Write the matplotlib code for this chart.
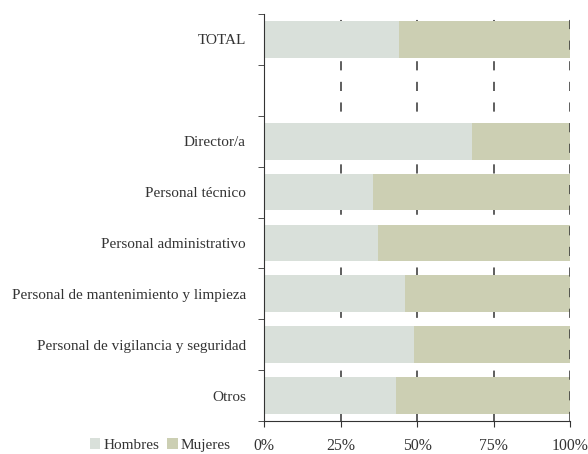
import matplotlib.pyplot as plt
import numpy as np

categories = ["TOTAL", "", "Director/a", "Personal técnico", "Personal administrativo",
              "Personal de mantenimiento y limpieza", "Personal de vigilancia y seguridad", "Otros"]
hombres = [44.1, np.nan, 68.0, 35.6, 37.3, 46.1, 49.0, 43.1]
mujeres = [55.9, np.nan, 32.0, 64.4, 62.7, 53.9, 51.0, 56.9]
xticks = [0, 25, 50, 75, 100]

plt.rcParams["font.family"] = ["Liberation Serif", "DejaVu Serif"]
txt = "#333333"

fig = plt.figure(figsize=(5.88, 4.54), dpi=100)
ax = fig.add_axes([264 / 588, 33 / 454, 306 / 588, 407 / 454])

y = np.arange(len(categories))
h = np.nan_to_num(hombres)
m = np.nan_to_num(mujeres)
ax.barh(y, h, height=0.72, color="#d9e0da", label="Hombres", zorder=2)
ax.barh(y, m, left=h, height=0.72, color="#cccfb3", label="Mujeres", zorder=2)

for x in xticks[1:]:
    ax.axvline(x, color="#333333", lw=1.1, ls=(0, (6, 7.5)), zorder=1 if x < 100 else 3)

ax.set_xlim(0, 100)
ax.set_ylim(len(categories) - 0.5, -0.5)
ax.set_xticks(xticks)
ax.set_xticklabels([f"{v}%" for v in xticks], fontsize=11.3, color=txt)
ax.set_yticks(y)
ax.set_yticklabels(categories, fontsize=11, color=txt)
ax.set_yticks(np.arange(len(categories) + 1) - 0.5, minor=True)
ax.tick_params(axis="y", which="major", length=0, pad=13)
ax.tick_params(axis="y", which="minor", length=4, color="#333333")
ax.tick_params(axis="x", length=4, color="#333333", pad=8)
for s in ["top", "right"]:
    ax.spines[s].set_visible(False)
for s in ["left", "bottom"]:
    ax.spines[s].set_color("#333333")

fig.legend(loc="lower left", bbox_to_anchor=(76 / 588, -0.025), ncol=2, frameon=False,
           fontsize=11, handlelength=0.7, handleheight=0.7, handletextpad=0.2,
           columnspacing=0.5, labelcolor=txt)

fig.savefig("out.png", dpi=100)
